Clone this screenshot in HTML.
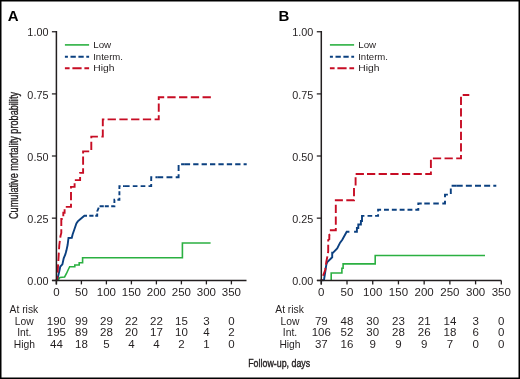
<!DOCTYPE html>
<html><head><meta charset="utf-8"><style>
html,body{margin:0;padding:0;background:#fff;width:520px;height:379px;overflow:hidden}
</style></head><body>
<svg width="520" height="379" viewBox="0 0 520 379" style="display:block;will-change:transform">
<rect x="0" y="0" width="520" height="379" fill="#fff"/>
<text x="7.8" y="20.7" font-family='"Liberation Sans", sans-serif' font-weight="bold" font-size="15" fill="#000">A</text>
<path d="M56.8 280.4 L58.2 280 L59.9 277.4 L64.6 277 L66.5 273.5 L68.3 269.5 L69.7 266.7 L74.8 266.6 L74.8 265 L79.2 265 L79.2 262.8 L82.6 262.8 L82.6 257.8 L182.4 257.8 L182.4 243 L210.6 243" stroke="#2bb041" stroke-width="1.6" fill="none" stroke-linejoin="miter"/>
<path d="M56.8 280.4 L57.5 279 L59.5 270.3 L60.3 266.5 L62.4 264.4 L63.7 258.4 L65.4 254.2 L66.4 250.6 L67.6 245 L68.5 238 L71.8 237.8 L72.6 234.5 L74.5 229 L76.4 223.4 L77.8 221.4 L80.5 219 L84.4 215.7 L87 215.7" stroke="#0b4080" stroke-width="1.9" fill="none" stroke-linejoin="miter"/>
<path d="M87 215.7 L89.3 215.7" stroke="#0b4080" stroke-width="1.9" fill="none" stroke-linejoin="miter" stroke-dasharray="5.3 3.1" stroke-dashoffset="6.1"/>
<path d="M89.3 215.7 L97.2 215.7 L97.2 211.5 L99.3 206.3 L104.8 206.3" stroke="#0b4080" stroke-width="1.9" fill="none" stroke-linejoin="miter" stroke-dasharray="4.2 1.8"/>
<path d="M104.8 206.3 L114.4 206.3 L114.4 199.7 L119.4 199.7 L119.4 186.1 L124.9 186.1" stroke="#0b4080" stroke-width="1.9" fill="none" stroke-linejoin="miter" stroke-dasharray="4 2.4"/>
<path d="M124.9 186.1 L151.2 186.1 L151.2 177.3 L157.3 177.3" stroke="#0b4080" stroke-width="1.9" fill="none" stroke-linejoin="miter" stroke-dasharray="4.7 3.17"/>
<path d="M157.3 177.3 L178.6 177.3 L178.6 164.3 L184.8 164.3" stroke="#0b4080" stroke-width="1.9" fill="none" stroke-linejoin="miter" stroke-dasharray="5.9 3.3"/>
<path d="M184.8 164.3 L246.7 164.3" stroke="#0b4080" stroke-width="1.9" fill="none" stroke-linejoin="miter" stroke-dasharray="5.3 3.1"/>
<path d="M56.4 280.2 L57.3 278 L59.3 245 L60.5 236 L61.3 233 L61.3 225.9" stroke="#c70d24" stroke-width="1.9" fill="none" stroke-linejoin="miter" stroke-dasharray="8.3 3.45" stroke-dashoffset="4.03"/>
<path d="M61.3 225.9 L61.3 219 L63.3 219 L63.3 212.7 L64.6 212.7 L64.6 206.9 L71 206.9 L71 188" stroke="#c70d24" stroke-width="1.9" fill="none" stroke-linejoin="miter" stroke-dasharray="8.3 3.45"/>
<path d="M71 188 L71 186.9 L74.6 186.9 L74.6 180.1 L80.1 180.1 L80.1 172.9 L83.1 172.9 L83.1 153.6" stroke="#c70d24" stroke-width="1.9" fill="none" stroke-linejoin="miter" stroke-dasharray="8.3 3.45"/>
<path d="M83.1 153.6 L83.1 151.4 L91.3 151.4 L91.3 136.6 L101.5 136.6" stroke="#c70d24" stroke-width="1.9" fill="none" stroke-linejoin="miter" stroke-dasharray="8.3 3.45"/>
<path d="M101.5 136.6 L102.8 136.6 L102.8 119.4 L107.6 119.4" stroke="#c70d24" stroke-width="1.9" fill="none" stroke-linejoin="miter" stroke-dasharray="8.3 3.45"/>
<path d="M107.6 119.4 L158.75 119.4 L158.75 97.2 L167.3 97.2" stroke="#c70d24" stroke-width="1.9" fill="none" stroke-linejoin="miter" stroke-dasharray="8.3 3.45"/>
<path d="M167.3 97.2 L211.25 97.2" stroke="#c70d24" stroke-width="1.9" fill="none" stroke-linejoin="miter" stroke-dasharray="8.3 3.45"/>
<path d="M56.4 31.1 V284.4 M52.1 280.45 H246.5" stroke="#231f20" stroke-width="1.5" fill="none"/>
<path d="M51.9 31.75 H56.4" stroke="#231f20" stroke-width="1.25"/>
<text transform="translate(48.4 36.35) scale(1.05 1)" text-anchor="end" font-family='"Liberation Sans", sans-serif' font-size="10.3" fill="#231f20">1.00</text>
<path d="M51.9 93.9 H56.4" stroke="#231f20" stroke-width="1.25"/>
<text transform="translate(48.4 98.5) scale(1.05 1)" text-anchor="end" font-family='"Liberation Sans", sans-serif' font-size="10.3" fill="#231f20">0.75</text>
<path d="M51.9 156 H56.4" stroke="#231f20" stroke-width="1.25"/>
<text transform="translate(48.4 160.6) scale(1.05 1)" text-anchor="end" font-family='"Liberation Sans", sans-serif' font-size="10.3" fill="#231f20">0.50</text>
<path d="M51.9 218.15 H56.4" stroke="#231f20" stroke-width="1.25"/>
<text transform="translate(48.4 222.75) scale(1.05 1)" text-anchor="end" font-family='"Liberation Sans", sans-serif' font-size="10.3" fill="#231f20">0.25</text>
<path d="M51.9 280.45 H56.4" stroke="#231f20" stroke-width="1.25"/>
<text transform="translate(48.4 285.05) scale(1.05 1)" text-anchor="end" font-family='"Liberation Sans", sans-serif' font-size="10.3" fill="#231f20">0.00</text>
<path d="M56.4 280.4 V284.4" stroke="#231f20" stroke-width="1.3"/>
<text transform="translate(56.4 295.7) scale(1.12 1)" text-anchor="middle" font-family='"Liberation Sans", sans-serif' font-size="10.3" fill="#231f20">0</text>
<path d="M81.4 280.4 V284.4" stroke="#231f20" stroke-width="1.3"/>
<text transform="translate(81.4 295.7) scale(1.12 1)" text-anchor="middle" font-family='"Liberation Sans", sans-serif' font-size="10.3" fill="#231f20">50</text>
<path d="M106.4 280.4 V284.4" stroke="#231f20" stroke-width="1.3"/>
<text transform="translate(106.4 295.7) scale(1.12 1)" text-anchor="middle" font-family='"Liberation Sans", sans-serif' font-size="10.3" fill="#231f20">100</text>
<path d="M131.4 280.4 V284.4" stroke="#231f20" stroke-width="1.3"/>
<text transform="translate(131.4 295.7) scale(1.12 1)" text-anchor="middle" font-family='"Liberation Sans", sans-serif' font-size="10.3" fill="#231f20">150</text>
<path d="M156.4 280.4 V284.4" stroke="#231f20" stroke-width="1.3"/>
<text transform="translate(156.4 295.7) scale(1.12 1)" text-anchor="middle" font-family='"Liberation Sans", sans-serif' font-size="10.3" fill="#231f20">200</text>
<path d="M181.4 280.4 V284.4" stroke="#231f20" stroke-width="1.3"/>
<text transform="translate(181.4 295.7) scale(1.12 1)" text-anchor="middle" font-family='"Liberation Sans", sans-serif' font-size="10.3" fill="#231f20">250</text>
<path d="M206.4 280.4 V284.4" stroke="#231f20" stroke-width="1.3"/>
<text transform="translate(206.4 295.7) scale(1.12 1)" text-anchor="middle" font-family='"Liberation Sans", sans-serif' font-size="10.3" fill="#231f20">300</text>
<path d="M231.4 280.4 V284.4" stroke="#231f20" stroke-width="1.3"/>
<text transform="translate(231.4 295.7) scale(1.12 1)" text-anchor="middle" font-family='"Liberation Sans", sans-serif' font-size="10.3" fill="#231f20">350</text>
<text transform="translate(17.7 155.5) rotate(-90)" text-anchor="middle" font-family='"Liberation Sans", sans-serif' font-size="12" textLength="127" lengthAdjust="spacingAndGlyphs" fill="#231f20" stroke="#231f20" stroke-width="0.35">Cumulative mortality probability</text>
<path d="M64.9 44.9 H89.1" stroke="#2bb041" stroke-width="1.6"/>
<path d="M64.9 56.7 H89.1" stroke="#0b4080" stroke-width="1.9" stroke-dasharray="3 2.6 5.3 2.6 5.3 2.6 3"/>
<path d="M64.9 68.2 H89.1" stroke="#c70d24" stroke-width="1.9" stroke-dasharray="4.7 2.8 9.2 2.8 4.7"/>
<text x="93.2" y="47.8" font-family='"Liberation Sans", sans-serif' font-size="9.7" textLength="18.0" lengthAdjust="spacingAndGlyphs" fill="#231f20">Low</text>
<text x="93.2" y="59.6" font-family='"Liberation Sans", sans-serif' font-size="9.7" textLength="29.8" lengthAdjust="spacingAndGlyphs" fill="#231f20">Interm.</text>
<text x="93.2" y="70.8" font-family='"Liberation Sans", sans-serif' font-size="9.7" textLength="21.2" lengthAdjust="spacingAndGlyphs" fill="#231f20">High</text>
<text x="9.6" y="313" font-family='"Liberation Sans", sans-serif' font-size="10.3" fill="#231f20">At risk</text>
<text x="24.3" y="324.6" text-anchor="middle" font-family='"Liberation Sans", sans-serif' font-size="10.3" fill="#231f20">Low</text>
<text transform="translate(56.4 324.6) scale(1.12 1)" text-anchor="middle" font-family='"Liberation Sans", sans-serif' font-size="10.3" fill="#231f20">190</text>
<text transform="translate(81.4 324.6) scale(1.12 1)" text-anchor="middle" font-family='"Liberation Sans", sans-serif' font-size="10.3" fill="#231f20">99</text>
<text transform="translate(106.4 324.6) scale(1.12 1)" text-anchor="middle" font-family='"Liberation Sans", sans-serif' font-size="10.3" fill="#231f20">29</text>
<text transform="translate(131.4 324.6) scale(1.12 1)" text-anchor="middle" font-family='"Liberation Sans", sans-serif' font-size="10.3" fill="#231f20">22</text>
<text transform="translate(156.4 324.6) scale(1.12 1)" text-anchor="middle" font-family='"Liberation Sans", sans-serif' font-size="10.3" fill="#231f20">22</text>
<text transform="translate(181.4 324.6) scale(1.12 1)" text-anchor="middle" font-family='"Liberation Sans", sans-serif' font-size="10.3" fill="#231f20">15</text>
<text transform="translate(206.4 324.6) scale(1.12 1)" text-anchor="middle" font-family='"Liberation Sans", sans-serif' font-size="10.3" fill="#231f20">3</text>
<text transform="translate(231.4 324.6) scale(1.12 1)" text-anchor="middle" font-family='"Liberation Sans", sans-serif' font-size="10.3" fill="#231f20">0</text>
<text x="24.3" y="336.4" text-anchor="middle" font-family='"Liberation Sans", sans-serif' font-size="10.3" fill="#231f20">Int.</text>
<text transform="translate(56.4 336.4) scale(1.12 1)" text-anchor="middle" font-family='"Liberation Sans", sans-serif' font-size="10.3" fill="#231f20">195</text>
<text transform="translate(81.4 336.4) scale(1.12 1)" text-anchor="middle" font-family='"Liberation Sans", sans-serif' font-size="10.3" fill="#231f20">89</text>
<text transform="translate(106.4 336.4) scale(1.12 1)" text-anchor="middle" font-family='"Liberation Sans", sans-serif' font-size="10.3" fill="#231f20">28</text>
<text transform="translate(131.4 336.4) scale(1.12 1)" text-anchor="middle" font-family='"Liberation Sans", sans-serif' font-size="10.3" fill="#231f20">20</text>
<text transform="translate(156.4 336.4) scale(1.12 1)" text-anchor="middle" font-family='"Liberation Sans", sans-serif' font-size="10.3" fill="#231f20">17</text>
<text transform="translate(181.4 336.4) scale(1.12 1)" text-anchor="middle" font-family='"Liberation Sans", sans-serif' font-size="10.3" fill="#231f20">10</text>
<text transform="translate(206.4 336.4) scale(1.12 1)" text-anchor="middle" font-family='"Liberation Sans", sans-serif' font-size="10.3" fill="#231f20">4</text>
<text transform="translate(231.4 336.4) scale(1.12 1)" text-anchor="middle" font-family='"Liberation Sans", sans-serif' font-size="10.3" fill="#231f20">2</text>
<text x="24.3" y="347.8" text-anchor="middle" font-family='"Liberation Sans", sans-serif' font-size="10.3" fill="#231f20">High</text>
<text transform="translate(56.4 347.8) scale(1.12 1)" text-anchor="middle" font-family='"Liberation Sans", sans-serif' font-size="10.3" fill="#231f20">44</text>
<text transform="translate(81.4 347.8) scale(1.12 1)" text-anchor="middle" font-family='"Liberation Sans", sans-serif' font-size="10.3" fill="#231f20">18</text>
<text transform="translate(106.4 347.8) scale(1.12 1)" text-anchor="middle" font-family='"Liberation Sans", sans-serif' font-size="10.3" fill="#231f20">5</text>
<text transform="translate(131.4 347.8) scale(1.12 1)" text-anchor="middle" font-family='"Liberation Sans", sans-serif' font-size="10.3" fill="#231f20">4</text>
<text transform="translate(156.4 347.8) scale(1.12 1)" text-anchor="middle" font-family='"Liberation Sans", sans-serif' font-size="10.3" fill="#231f20">4</text>
<text transform="translate(181.4 347.8) scale(1.12 1)" text-anchor="middle" font-family='"Liberation Sans", sans-serif' font-size="10.3" fill="#231f20">2</text>
<text transform="translate(206.4 347.8) scale(1.12 1)" text-anchor="middle" font-family='"Liberation Sans", sans-serif' font-size="10.3" fill="#231f20">1</text>
<text transform="translate(231.4 347.8) scale(1.12 1)" text-anchor="middle" font-family='"Liberation Sans", sans-serif' font-size="10.3" fill="#231f20">0</text>
<text x="278.6" y="20.7" font-family='"Liberation Sans", sans-serif' font-weight="bold" font-size="15" fill="#000">B</text>
<path d="M331.2 280.2 L331.2 273 L341.9 273 L341.9 268.3 L343.1 268.3 L343.1 263.9 L375.2 263.9 L375.2 255.5 L485 255.5" stroke="#2bb041" stroke-width="1.6" fill="none" stroke-linejoin="miter"/>
<path d="M321.3 280.2 L324 280 L326.3 264.8 L327.3 262 L332.2 257.3 L332.2 252.8 L332.9 252.8 L337.2 248.5 L340.1 242.7 L342.3 239.8 L346.7 231.7 L349.4 231.7" stroke="#0b4080" stroke-width="1.9" fill="none" stroke-linejoin="miter"/>
<path d="M354.1 231.7 L356.9 231.7 L356.9 228 L358.3 228 L358.3 224.5 L360.9 224.5 L360.9 221 L362 221 L362 215.9 L364.4 215.9" stroke="#0b4080" stroke-width="1.9" fill="none" stroke-linejoin="miter"/>
<path d="M364.4 215.9 L367.6 215.9" stroke="#0b4080" stroke-width="1.9" fill="none" stroke-linejoin="miter" stroke-dasharray="5.0 3.1" stroke-dashoffset="5.0"/>
<path d="M367.6 215.9 L378.1 215.9 L378.1 209.8 L384 209.8" stroke="#0b4080" stroke-width="1.9" fill="none" stroke-linejoin="miter" stroke-dasharray="4.6 2.9"/>
<path d="M384 209.8 L418.3 209.8 L418.3 203.5 L424.3 203.5" stroke="#0b4080" stroke-width="1.9" fill="none" stroke-linejoin="miter" stroke-dasharray="4.9 2.93"/>
<path d="M424.3 203.5 L445 203.5 L445 194.6 L450.8 194.6 L450.8 185.8 L456.7 185.8" stroke="#0b4080" stroke-width="1.9" fill="none" stroke-linejoin="miter" stroke-dasharray="5.5 3.5"/>
<path d="M456.7 185.8 L496.3 185.8" stroke="#0b4080" stroke-width="1.9" fill="none" stroke-linejoin="miter" stroke-dasharray="6 3.15"/>
<path d="M321.3 280.2 L325.2 270 L326.3 261.8 L327.8 254.3 L328.2 251.3 L328.2 240 L329.3 239.3 L329.3 234.8 L330.8 234 L330.8 230.3 L335.8 230.3 L335.8 200.2 L346.3 200.2" stroke="#c70d24" stroke-width="1.9" fill="none" stroke-linejoin="miter" stroke-dasharray="8.25 3.4" stroke-dashoffset="6.88"/>
<path d="M346.3 200.2 L354 200.2 L354 187.3 L355.6 186.5 L355.6 174 L367 174" stroke="#c70d24" stroke-width="1.9" fill="none" stroke-linejoin="miter" stroke-dasharray="8.25 3.4"/>
<path d="M367 174 L430.9 174 L430.9 158.4 L432.9 158.4" stroke="#c70d24" stroke-width="1.9" fill="none" stroke-linejoin="miter" stroke-dasharray="8.25 3.4"/>
<path d="M432.9 158.4 L461 158.4 L461 95 L469.3 95" stroke="#c70d24" stroke-width="1.9" fill="none" stroke-linejoin="miter" stroke-dasharray="8.25 3.4"/>
<path d="M321.3 31.1 V284.4 M317 280.45 H501.3" stroke="#231f20" stroke-width="1.5" fill="none"/>
<path d="M316.8 31.75 H321.3" stroke="#231f20" stroke-width="1.25"/>
<text transform="translate(313.3 36.35) scale(1.05 1)" text-anchor="end" font-family='"Liberation Sans", sans-serif' font-size="10.3" fill="#231f20">1.00</text>
<path d="M316.8 93.9 H321.3" stroke="#231f20" stroke-width="1.25"/>
<text transform="translate(313.3 98.5) scale(1.05 1)" text-anchor="end" font-family='"Liberation Sans", sans-serif' font-size="10.3" fill="#231f20">0.75</text>
<path d="M316.8 156 H321.3" stroke="#231f20" stroke-width="1.25"/>
<text transform="translate(313.3 160.6) scale(1.05 1)" text-anchor="end" font-family='"Liberation Sans", sans-serif' font-size="10.3" fill="#231f20">0.50</text>
<path d="M316.8 218.15 H321.3" stroke="#231f20" stroke-width="1.25"/>
<text transform="translate(313.3 222.75) scale(1.05 1)" text-anchor="end" font-family='"Liberation Sans", sans-serif' font-size="10.3" fill="#231f20">0.25</text>
<path d="M316.8 280.45 H321.3" stroke="#231f20" stroke-width="1.25"/>
<text transform="translate(313.3 285.05) scale(1.05 1)" text-anchor="end" font-family='"Liberation Sans", sans-serif' font-size="10.3" fill="#231f20">0.00</text>
<path d="M321.3 280.4 V284.4" stroke="#231f20" stroke-width="1.3"/>
<text transform="translate(321.3 295.7) scale(1.12 1)" text-anchor="middle" font-family='"Liberation Sans", sans-serif' font-size="10.3" fill="#231f20">0</text>
<path d="M347.01 280.4 V284.4" stroke="#231f20" stroke-width="1.3"/>
<text transform="translate(347.01 295.7) scale(1.12 1)" text-anchor="middle" font-family='"Liberation Sans", sans-serif' font-size="10.3" fill="#231f20">50</text>
<path d="M372.73 280.4 V284.4" stroke="#231f20" stroke-width="1.3"/>
<text transform="translate(372.73 295.7) scale(1.12 1)" text-anchor="middle" font-family='"Liberation Sans", sans-serif' font-size="10.3" fill="#231f20">100</text>
<path d="M398.44 280.4 V284.4" stroke="#231f20" stroke-width="1.3"/>
<text transform="translate(398.44 295.7) scale(1.12 1)" text-anchor="middle" font-family='"Liberation Sans", sans-serif' font-size="10.3" fill="#231f20">150</text>
<path d="M424.16 280.4 V284.4" stroke="#231f20" stroke-width="1.3"/>
<text transform="translate(424.16 295.7) scale(1.12 1)" text-anchor="middle" font-family='"Liberation Sans", sans-serif' font-size="10.3" fill="#231f20">200</text>
<path d="M449.88 280.4 V284.4" stroke="#231f20" stroke-width="1.3"/>
<text transform="translate(449.88 295.7) scale(1.12 1)" text-anchor="middle" font-family='"Liberation Sans", sans-serif' font-size="10.3" fill="#231f20">250</text>
<path d="M475.59 280.4 V284.4" stroke="#231f20" stroke-width="1.3"/>
<text transform="translate(475.59 295.7) scale(1.12 1)" text-anchor="middle" font-family='"Liberation Sans", sans-serif' font-size="10.3" fill="#231f20">300</text>
<path d="M501.31 280.4 V284.4" stroke="#231f20" stroke-width="1.3"/>
<text transform="translate(501.31 295.7) scale(1.12 1)" text-anchor="middle" font-family='"Liberation Sans", sans-serif' font-size="10.3" fill="#231f20">350</text>
<path d="M329.9 44.9 H354.1" stroke="#2bb041" stroke-width="1.6"/>
<path d="M329.9 56.7 H354.1" stroke="#0b4080" stroke-width="1.9" stroke-dasharray="3 2.6 5.3 2.6 5.3 2.6 3"/>
<path d="M329.9 68.2 H354.1" stroke="#c70d24" stroke-width="1.9" stroke-dasharray="4.7 2.8 9.2 2.8 4.7"/>
<text x="358.2" y="47.8" font-family='"Liberation Sans", sans-serif' font-size="9.7" textLength="18.0" lengthAdjust="spacingAndGlyphs" fill="#231f20">Low</text>
<text x="358.2" y="59.6" font-family='"Liberation Sans", sans-serif' font-size="9.7" textLength="29.8" lengthAdjust="spacingAndGlyphs" fill="#231f20">Interm.</text>
<text x="358.2" y="70.8" font-family='"Liberation Sans", sans-serif' font-size="9.7" textLength="21.2" lengthAdjust="spacingAndGlyphs" fill="#231f20">High</text>
<text x="275.29" y="313" font-family='"Liberation Sans", sans-serif' font-size="10.3" fill="#231f20">At risk</text>
<text x="289.99" y="324.6" text-anchor="middle" font-family='"Liberation Sans", sans-serif' font-size="10.3" fill="#231f20">Low</text>
<text transform="translate(321.3 324.6) scale(1.12 1)" text-anchor="middle" font-family='"Liberation Sans", sans-serif' font-size="10.3" fill="#231f20">79</text>
<text transform="translate(347.01 324.6) scale(1.12 1)" text-anchor="middle" font-family='"Liberation Sans", sans-serif' font-size="10.3" fill="#231f20">48</text>
<text transform="translate(372.73 324.6) scale(1.12 1)" text-anchor="middle" font-family='"Liberation Sans", sans-serif' font-size="10.3" fill="#231f20">30</text>
<text transform="translate(398.44 324.6) scale(1.12 1)" text-anchor="middle" font-family='"Liberation Sans", sans-serif' font-size="10.3" fill="#231f20">23</text>
<text transform="translate(424.16 324.6) scale(1.12 1)" text-anchor="middle" font-family='"Liberation Sans", sans-serif' font-size="10.3" fill="#231f20">21</text>
<text transform="translate(449.88 324.6) scale(1.12 1)" text-anchor="middle" font-family='"Liberation Sans", sans-serif' font-size="10.3" fill="#231f20">14</text>
<text transform="translate(475.59 324.6) scale(1.12 1)" text-anchor="middle" font-family='"Liberation Sans", sans-serif' font-size="10.3" fill="#231f20">3</text>
<text transform="translate(501.31 324.6) scale(1.12 1)" text-anchor="middle" font-family='"Liberation Sans", sans-serif' font-size="10.3" fill="#231f20">0</text>
<text x="289.99" y="336.4" text-anchor="middle" font-family='"Liberation Sans", sans-serif' font-size="10.3" fill="#231f20">Int.</text>
<text transform="translate(321.3 336.4) scale(1.12 1)" text-anchor="middle" font-family='"Liberation Sans", sans-serif' font-size="10.3" fill="#231f20">106</text>
<text transform="translate(347.01 336.4) scale(1.12 1)" text-anchor="middle" font-family='"Liberation Sans", sans-serif' font-size="10.3" fill="#231f20">52</text>
<text transform="translate(372.73 336.4) scale(1.12 1)" text-anchor="middle" font-family='"Liberation Sans", sans-serif' font-size="10.3" fill="#231f20">30</text>
<text transform="translate(398.44 336.4) scale(1.12 1)" text-anchor="middle" font-family='"Liberation Sans", sans-serif' font-size="10.3" fill="#231f20">28</text>
<text transform="translate(424.16 336.4) scale(1.12 1)" text-anchor="middle" font-family='"Liberation Sans", sans-serif' font-size="10.3" fill="#231f20">26</text>
<text transform="translate(449.88 336.4) scale(1.12 1)" text-anchor="middle" font-family='"Liberation Sans", sans-serif' font-size="10.3" fill="#231f20">18</text>
<text transform="translate(475.59 336.4) scale(1.12 1)" text-anchor="middle" font-family='"Liberation Sans", sans-serif' font-size="10.3" fill="#231f20">6</text>
<text transform="translate(501.31 336.4) scale(1.12 1)" text-anchor="middle" font-family='"Liberation Sans", sans-serif' font-size="10.3" fill="#231f20">0</text>
<text x="289.99" y="347.8" text-anchor="middle" font-family='"Liberation Sans", sans-serif' font-size="10.3" fill="#231f20">High</text>
<text transform="translate(321.3 347.8) scale(1.12 1)" text-anchor="middle" font-family='"Liberation Sans", sans-serif' font-size="10.3" fill="#231f20">37</text>
<text transform="translate(347.01 347.8) scale(1.12 1)" text-anchor="middle" font-family='"Liberation Sans", sans-serif' font-size="10.3" fill="#231f20">16</text>
<text transform="translate(372.73 347.8) scale(1.12 1)" text-anchor="middle" font-family='"Liberation Sans", sans-serif' font-size="10.3" fill="#231f20">9</text>
<text transform="translate(398.44 347.8) scale(1.12 1)" text-anchor="middle" font-family='"Liberation Sans", sans-serif' font-size="10.3" fill="#231f20">9</text>
<text transform="translate(424.16 347.8) scale(1.12 1)" text-anchor="middle" font-family='"Liberation Sans", sans-serif' font-size="10.3" fill="#231f20">9</text>
<text transform="translate(449.88 347.8) scale(1.12 1)" text-anchor="middle" font-family='"Liberation Sans", sans-serif' font-size="10.3" fill="#231f20">7</text>
<text transform="translate(475.59 347.8) scale(1.12 1)" text-anchor="middle" font-family='"Liberation Sans", sans-serif' font-size="10.3" fill="#231f20">0</text>
<text transform="translate(501.31 347.8) scale(1.12 1)" text-anchor="middle" font-family='"Liberation Sans", sans-serif' font-size="10.3" fill="#231f20">0</text>
<text x="279.2" y="367.2" text-anchor="middle" font-family='"Liberation Sans", sans-serif' font-size="11.8" textLength="62" lengthAdjust="spacingAndGlyphs" fill="#231f20" stroke="#231f20" stroke-width="0.4">Follow-up, days</text>
<rect x="0.75" y="0.75" width="518.5" height="377.5" fill="none" stroke="#000" stroke-width="1.5"/>
</svg>
</body></html>
